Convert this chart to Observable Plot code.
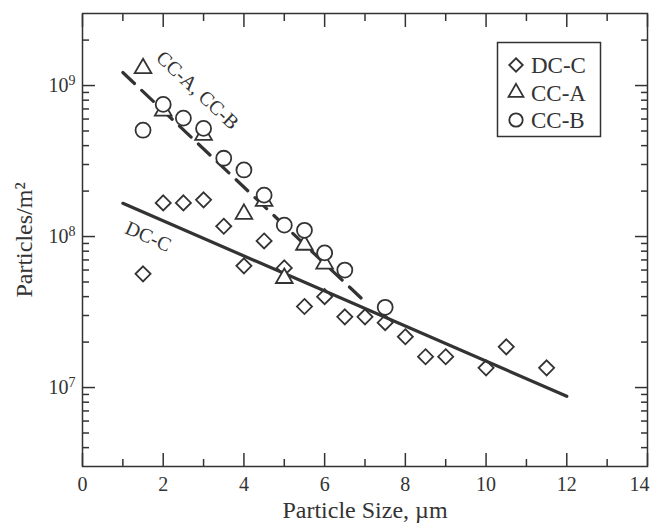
<!DOCTYPE html>
<html><head><meta charset="utf-8">
<script src="https://cdn.jsdelivr.net/npm/d3@7"></script>
<script src="https://cdn.jsdelivr.net/npm/@observablehq/plot@0.6"></script>
<style>
body{margin:0;background:#fff;}
#wrap{position:relative;width:654px;height:527px;}
#legend{position:absolute;left:0;top:0;pointer-events:none;}
</style></head><body><div id="wrap"></div>
<script>
// DC-C (diamonds)
const dccX = [1.5, 2, 2.5, 3, 3.5, 4, 4.5, 5, 5.5, 6, 6.5, 7, 7.5, 8, 8.5, 9, 10, 10.5, 11.5];
const dccY = [5.66e7, 1.67e8, 1.67e8, 1.75e8, 1.17e8, 6.4e7, 9.35e7, 6.2e7, 3.44e7, 4.0e7, 2.94e7, 2.94e7, 2.69e7, 2.17e7, 1.6e7, 1.6e7, 1.35e7, 1.86e7, 1.35e7];
// CC-A (triangles)
const ccaX = [1.5, 2, 3, 4, 4.5, 5, 5.5, 6];
const ccaY = [1.3e9, 6.8e8, 4.7e8, 1.41e8, 1.72e8, 5.3e7, 8.8e7, 6.6e7];
// CC-B (circles)
const ccbX = [1.5, 2, 2.5, 3, 3.5, 4, 4.5, 5, 5.5, 6, 6.5, 7.5];
const ccbY = [5.06e8, 7.5e8, 6.08e8, 5.2e8, 3.3e8, 2.76e8, 1.88e8, 1.19e8, 1.1e8, 7.8e7, 6.0e7, 3.4e7];
// fitted lines
const fitDcX = [1, 12];
const fitDcY = [1.66e8, 8.75e6];
const fitCcX = [1, 7];
const fitCcY = [1.22e9, 3.7e7];
// ticks
const xMajor = [0, 2, 4, 6, 8, 10, 12, 14];
const xMinor = [1, 3, 5, 7, 9, 11, 13];
const yMajor = [1e7, 1e8, 1e9];
const yMinor = [4e6, 5e6, 6e6, 7e6, 8e6, 9e6, 2e7, 3e7, 4e7, 5e7, 6e7, 7e7, 8e7, 9e7, 2e8, 3e8, 4e8, 5e8, 6e8, 7e8, 8e8, 9e8, 2e9];
// labels
const seriesNames = ["DC-C", "CC-A", "CC-B"];
const seriesSymbols = ["diamond2", "triangle", "circle"];
const annotX = [2.85, 1.63];
const annotY = [9.3e8, 1.0e8];
const annotText = ["CC-A, CC-B", "DC-C"];
const annotAngle = [43, 24];
const xLabel = "Particle Size, \u00b5m";
const yLabel = "Particles/m\u00b2";

const zip = (xs, ys) => xs.map((x, i) => ({x, y: ys[i]}));
const ink = "#333";
const font = "Liberation Serif";
const rD = 6.8, rT = 6.2, rC = 7.5;

const plot = Plot.plot({
  width: 654, height: 527,
  marginLeft: 82, marginRight: 7, marginTop: 13, marginBottom: 61,
  style: {fontFamily: font, fontSize: "20px", color: ink, background: "#fff", overflow: "visible"},
  x: {domain: [0, 14]},
  y: {type: "log", domain: [3e6, 3e9]},
  marks: [
    Plot.line(zip(fitDcX, fitDcY), {x: "x", y: "y", stroke: ink, strokeWidth: 3.2}),
    Plot.line(zip(fitCcX, fitCcY), {x: "x", y: "y", stroke: ink, strokeWidth: 3.2, strokeDasharray: "16,10"}),
    Plot.dot(zip(dccX, dccY), {x: "x", y: "y", symbol: "diamond2", r: rD, stroke: ink, strokeWidth: 1.8, fill: "none"}),
    Plot.dot(zip(ccaX, ccaY), {x: "x", y: "y", symbol: "triangle", r: rT, stroke: ink, strokeWidth: 1.8, fill: "white"}),
    Plot.dot(zip(ccbX, ccbY), {x: "x", y: "y", symbol: "circle", r: rC, stroke: ink, strokeWidth: 1.8, fill: "white"}),
    Plot.text(annotText.map((t, i) => ({t, x: annotX[i], y: annotY[i], a: annotAngle[i]})), {
      x: "x", y: "y", text: "t", rotate: (d) => d.a, fontSize: 20, fill: ink
    }),
    Plot.frame({stroke: ink, strokeWidth: 1.5}),
    // x ticks (inward) bottom and top
    Plot.axisX(xMajor, {anchor: "bottom", tickSize: -13, fill: "none", stroke: ink, strokeWidth: 1.5}),
    Plot.axisX(xMinor, {anchor: "bottom", tickSize: -7, fill: "none", stroke: ink, strokeWidth: 1.5}),
    Plot.axisX(xMajor, {anchor: "top", tickSize: -13, fill: "none", stroke: ink, strokeWidth: 1.5}),
    Plot.axisX(xMinor, {anchor: "top", tickSize: -7, fill: "none", stroke: ink, strokeWidth: 1.5}),
    Plot.axisX(xMajor, {anchor: "bottom", tickSize: 0, tickPadding: 10, label: null, fontSize: 20, fill: ink, tickFormat: (d) => String(d)}),
    // y ticks (inward) left and right
    Plot.axisY(yMajor, {anchor: "left", tickSize: -13, fill: "none", stroke: ink, strokeWidth: 1.5}),
    Plot.axisY(yMinor, {anchor: "left", tickSize: -7, fill: "none", stroke: ink, strokeWidth: 1.5}),
    Plot.axisY(yMajor, {anchor: "right", tickSize: -13, fill: "none", stroke: ink, strokeWidth: 1.5}),
    Plot.axisY(yMinor, {anchor: "right", tickSize: -7, fill: "none", stroke: ink, strokeWidth: 1.5}),
    Plot.axisY(yMajor, {anchor: "left", tickSize: 0, tickPadding: 7, label: null, fontSize: 20, fill: ink,
      tickFormat: (d) => "E" + Math.round(Math.log10(d))}),
    // axis titles
    Plot.text([xLabel], {frameAnchor: "bottom", textAnchor: "middle", lineAnchor: "middle", dy: 44, fontSize: 24, fill: ink}),
    Plot.text([yLabel], {frameAnchor: "left", textAnchor: "middle", lineAnchor: "middle", rotate: -90, dx: -58, fontSize: 24, fill: ink})
  ]
});

// superscript exponents on y tick labels; keep last x label inside the window
d3.select(plot).selectAll("text").each(function() {
  const t = d3.select(this);
  const s = t.text();
  const m = /^E(\d+)$/.exec(s);
  if (m) {
    t.text(null);
    t.append("tspan").text("10");
    t.append("tspan").attr("dy", "-0.5em").attr("font-size", "14px").text(m[1]);
  } else if (s === "14") {
    t.attr("dx", -8);
  }
});

const wrap = document.getElementById("wrap");
wrap.appendChild(plot);

// legend
const lg = d3.select(wrap).append("svg").attr("id", "legend").attr("width", 654).attr("height", 527);
lg.append("rect").attr("x", 497.5).attr("y", 42.5).attr("width", 103).attr("height", 94)
  .attr("fill", "white").attr("stroke", ink).attr("stroke-width", 1.5);
const symMap = {diamond2: d3.symbolDiamond2, triangle: d3.symbolTriangle, circle: d3.symbolCircle};
const rMap = {diamond2: rD, triangle: rT, circle: rC};
seriesNames.forEach((name, i) => {
  const yy = 65 + i * 27.5;
  const s = seriesSymbols[i];
  lg.append("path").attr("transform", `translate(516,${yy})`)
    .attr("d", d3.symbol(symMap[s], Math.PI * rMap[s] * rMap[s] * 0.8)())
    .attr("fill", "none").attr("stroke", ink).attr("stroke-width", 1.8);
  lg.append("text").attr("x", 531).attr("y", yy).attr("dy", "0.35em")
    .attr("font-family", font).attr("font-size", 23).attr("fill", ink).text(name);
});
</script></body></html>
